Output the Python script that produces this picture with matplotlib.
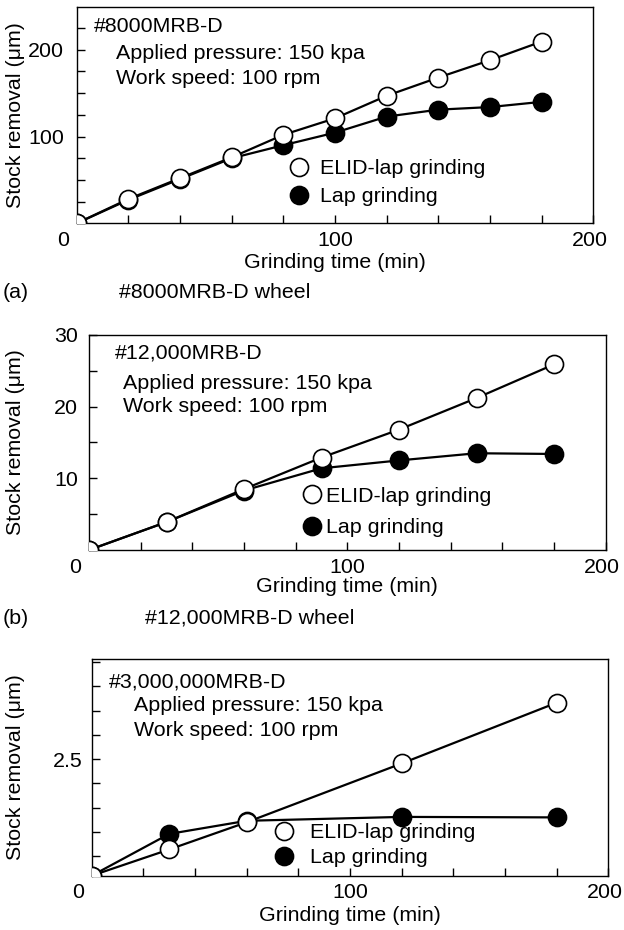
import matplotlib
matplotlib.use("Agg")
from matplotlib import pyplot as plt
from matplotlib.lines import Line2D
from matplotlib.ticker import MultipleLocator
import matplotlib.transforms as mtransforms

# data (min, um)
time_a = [0, 20, 40, 60, 80, 100, 120, 140, 160, 180]
elid_a = [0, 28, 52, 76, 102, 121, 147, 168, 188, 209.5]
lap_a = [0, 27, 51, 75, 90, 104.5, 123, 131, 134, 140]

time_b = [0, 30, 60, 90, 120, 150, 180]
elid_b = [0, 3.9, 8.5, 12.9, 16.8, 21.2, 25.9]
lap_b = [0, 3.9, 8.3, 11.4, 12.5, 13.5, 13.4]

time_c = [0, 30, 60, 120, 180]
elid_c = [0.1, 0.64, 1.20, 2.41, 3.66]
lap_c = [0.1, 0.96, 1.23, 1.31, 1.30]

wheels = ["#8000MRB-D", "#12,000MRB-D", "#3,000,000MRB-D"]
conditions = ["Applied pressure: 150 kpa", "Work speed: 100 rpm"]
series_names = ["ELID-lap grinding", "Lap grinding"]

W, H = 624, 930
FS = 15.4
MS = 13

plt.rcParams['font.family'] = ['Liberation Sans', 'DejaVu Sans']
plt.rcParams['font.size'] = FS

fig = plt.figure(figsize=(W / 100, H / 100), dpi=100)


def fx(x):
    return x / W


def fy(y):
    return 1 - y / H


def ptext(x, y, s, **kw):
    fig.text(fx(x), fy(y), s, ha=kw.pop('ha', 'left'), va=kw.pop('va', 'center'), **kw)


def shift_label(lab, dx):
    lab.set_transform(lab.get_transform() +
                      mtransforms.ScaledTranslation(dx, 0, fig.dpi_scale_trans))


def panel(box, t, elid, lap, ylim, ymajor, yminor, ylabels, ypad,
          title_xy, cond_xy, leg_xy, leg_pad, leg_space, xlab_y):
    left, top, right, bottom = box
    ax = fig.add_axes([fx(left), fy(bottom), fx(right - left), (bottom - top) / H])
    ax.plot(t, lap, color='black', lw=1.6, marker='o', ms=MS,
            mfc='black', mec='black', mew=1.2, zorder=3)
    ax.plot(t, elid, color='black', lw=1.6, marker='o', ms=MS,
            mfc='white', mec='black', mew=1.2, zorder=4)
    ax.set_xlim(0, 200)
    ax.set_ylim(*ylim)
    ax.set_xticks([0, 100, 200])
    ax.xaxis.set_minor_locator(MultipleLocator(20))
    ax.set_yticks(ymajor)
    ax.set_yticklabels(ylabels)
    ax.yaxis.set_minor_locator(MultipleLocator(yminor))
    ax.tick_params(which='both', direction='in', length=5.8, width=1.0,
                   top=False, right=False, labelsize=FS)
    ax.tick_params(axis='x', pad=5.5)
    ax.tick_params(axis='y', pad=ypad)
    for sp in ax.spines.values():
        sp.set_linewidth(1.0)
    # the "0" at the origin sits a bit left of the corner, "200" a touch left too
    labs = ax.get_xticklabels()
    shift_label(labs[0], -0.14)
    shift_label(labs[-1], -0.035)

    handles = [
        Line2D([], [], ls='none', marker='o', ms=MS, mfc='white', mec='black', mew=1.2),
        Line2D([], [], ls='none', marker='o', ms=MS, mfc='black', mec='black', mew=1.2),
    ]
    ax.legend(handles, series_names, loc='center left',
              bbox_to_anchor=(fx(leg_xy[0]), fy(leg_xy[1])),
              bbox_transform=fig.transFigure, frameon=False, borderpad=0,
              borderaxespad=0, handlelength=1.0, handletextpad=leg_pad,
              labelspacing=leg_space, numpoints=1, fontsize=FS)

    ptext(title_xy[0], title_xy[1], title_xy[2])
    for i, s in enumerate(conditions):
        ptext(cond_xy[0], cond_xy[1][i], s)
    ptext((left + right) / 2, xlab_y, "Grinding time (min)", ha='center')
    ptext(16, (top + bottom) / 2, "Stock removal (μm)", ha='center', rotation=90)
    return ax


panel((76.7, 7.3, 593.3, 223.3), time_a, elid_a, lap_a, (0, 249),
      [100, 200], 25, ["100", "200"], 9.0,
      (93.4, 26.7, wheels[0]), (116.1, [53.3, 79]),
      (288, 182.5), 0.5, 0.42, 262)

panel((89, 335, 605.7, 550), time_b, elid_b, lap_b, (0, 30),
      [10, 20, 30], 5, ["10", "20", "30"], 8.0,
      (115.3, 353.3, wheels[1]), (123.3, [383, 407]),
      (301.3, 512), 0.14, 0.57, 586)

panel((91.7, 659, 608.3, 875.7), time_c, elid_c, lap_c, (0.1, 4.56),
      [2.5], 0.5, ["2.5"], 6.5,
      (109.3, 681.7, wheels[2]), (134.3, [705, 730]),
      (273, 845.2), 0.75, 0.28, 915)

# panel captions
ptext(3, 293, "(a)")
ptext(119.3, 293, wheels[0] + " wheel")
ptext(3, 618.3, "(b)")
ptext(145.1, 618.3, wheels[1] + " wheel")

fig.savefig("out.png", dpi=100)
